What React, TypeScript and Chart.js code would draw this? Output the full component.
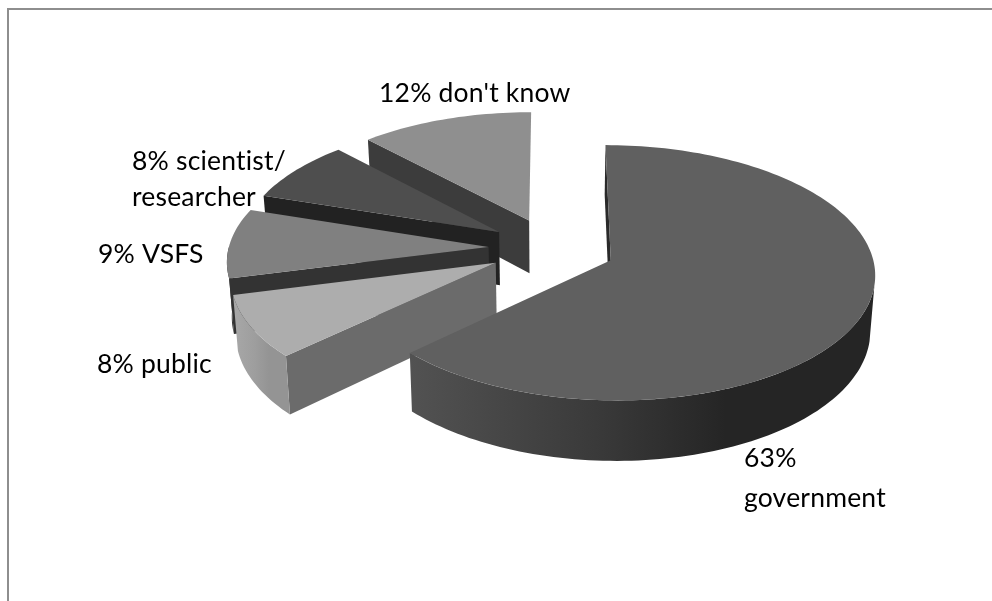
import React, { useEffect, useRef } from "react";
import { Chart, registerables } from "chart.js";

Chart.register(...registerables);

// Survey answers, clockwise from twelve o'clock.
const categories = ["government", "public", "VSFS", "scientist/ researcher", "don't know"];
const shares = [63, 8, 9, 8, 12];
const labelLines = [
  ["63%", "government"],
  ["8% public"],
  ["9% VSFS"],
  ["8% scientist/", "researcher"],
  ["12% don't know"],
];

// Where each label's first line starts, as [x, baseline, line gap].
const labelAnchors = [
  [744, 467, 40],
  [97, 373, 0],
  [98, 263, 0],
  [132, 170, 36],
  [379, 102, 0],
];

// Shades per slice: top face, start-edge wall, rim wall gradient stops.
const topFaces = ["#606060", "#adadad", "#808080", "#4e4e4e", "#8f8f8f"];
const edgeWalls = ["#2a2a2a", "#6b6b6b", "#333333", "#222222", "#3c3c3c"];
const rimWalls = [
  ["#525252", "#3a3a3a", "#252525", "#252525"],
  ["#a8a8a8", "#9e9e9e", "#949494", "#949494"],
  ["#333333", "#333333", "#333333", "#333333"],
  ["#222222", "#222222", "#222222", "#222222"],
  ["#3c3c3c", "#3c3c3c", "#3c3c3c", "#3c3c3c"],
];

// Camera model of the tilted pie.
const VIEW = {
  cx: 552,
  cy: 248,
  rx: 260,
  ry: 124,
  perspective: 0.098,
  explode: 0.244,
  depth: 54,
  floorShrink: 0.985,
  rimStart: 0.2,
};

type Pt = [number, number];

function project(angle: number, radius: number, mid: number, floor: boolean): Pt {
  const { cx, cy, rx, ry, perspective, explode, depth, floorShrink } = VIEW;
  const U = explode * Math.cos(mid) + radius * Math.cos(angle);
  const V = explode * Math.sin(mid) + radius * Math.sin(angle);
  const s = 1 / (1 - perspective * V);
  const k = floor ? floorShrink : 1;
  return [cx + k * s * rx * U, cy + s * ry * V + (floor ? s * depth : 0)];
}

function rimPoints(a0: number, a1: number, mid: number, floor: boolean): Pt[] {
  const steps = Math.max(2, Math.ceil(Math.abs(a1 - a0) * 40));
  const pts: Pt[] = [];
  for (let i = 0; i <= steps; i++) {
    pts.push(project(a0 + ((a1 - a0) * i) / steps, 1, mid, floor));
  }
  return pts;
}

function fillPolygon(ctx: CanvasRenderingContext2D, pts: Pt[], fill: string | CanvasGradient) {
  ctx.beginPath();
  pts.forEach(([x, y], i) => (i ? ctx.lineTo(x, y) : ctx.moveTo(x, y)));
  ctx.closePath();
  ctx.fillStyle = fill;
  ctx.fill();
}

// Paints each arc of the pie as an exploded prism, farthest slice first.
const prismPlugin = {
  id: "prismPie",
  afterDatasetsDraw(chart: Chart) {
    const { ctx } = chart;
    const arcs = chart.getDatasetMeta(0).data as any[];
    ctx.save();
    for (let i = arcs.length - 1; i >= 0; i--) {
      const { startAngle: a0, endAngle: a1 } = arcs[i].getProps(["startAngle", "endAngle"], true);
      const mid = (a0 + a1) / 2;

      // Straight wall along the slice's leading edge.
      fillPolygon(
        ctx,
        [
          project(a0, 0, mid, false),
          project(a0, 1, mid, false),
          project(a0, 1, mid, true),
          project(a0, 0, mid, true),
        ],
        edgeWalls[i]
      );

      // Curved wall, only where the rim faces the viewer.
      const from = Math.max(a0, VIEW.rimStart);
      const to = Math.min(a1, Math.PI);
      if (to > from) {
        const upper = rimPoints(from, to, mid, false);
        const lower = rimPoints(from, to, mid, true).reverse();
        const xs = upper.map((p) => p[0]);
        const minX = Math.min(...xs);
        const maxX = Math.max(...xs);
        const grad = ctx.createLinearGradient(minX, 0, maxX, 0);
        const stops = rimWalls[i];
        grad.addColorStop(0, stops[0]);
        grad.addColorStop(0.4, stops[1]);
        grad.addColorStop(0.68, stops[2]);
        grad.addColorStop(1, stops[3]);
        fillPolygon(ctx, [...upper, ...lower], grad);
      }

      fillPolygon(ctx, [project(a0, 0, mid, false), ...rimPoints(a0, a1, mid, false)], topFaces[i]);
    }

    ctx.fillStyle = "#000000";
    ctx.font = '26.5px Lato, "Open Sans", sans-serif';
    (ctx as any).letterSpacing = "0.2px";
    ctx.textBaseline = "alphabetic";
    labelLines.forEach((lines, i) => {
      const [x, y, gap] = labelAnchors[i];
      lines.forEach((line, n) => ctx.fillText(line, x, y + n * gap));
    });

    // Frame of the chart area, open on the other sides.
    ctx.fillStyle = "#8e8e8e";
    ctx.fillRect(7, 8, 2, 593);
    ctx.fillRect(7, 8, 985, 2);
    ctx.restore();
  },
};

export default function App() {
  const ref = useRef<HTMLCanvasElement | null>(null);
  useEffect(() => {
    if (!ref.current) return;
    const chart = new Chart(ref.current, {
      type: "pie",
      data: {
        labels: categories,
        datasets: [
          {
            data: shares,
            backgroundColor: "rgba(0,0,0,0)",
            borderWidth: 0,
          },
        ],
      },
      options: {
        responsive: false,
        animation: false,
        events: [],
        plugins: { legend: { display: false }, tooltip: { enabled: false } },
      },
      plugins: [prismPlugin],
    });
    return () => chart.destroy();
  }, []);
  return (
    <div style={{ position: "fixed", left: 0, top: 0, width: 992, height: 601, background: "#ffffff" }}>
      <canvas ref={ref} width={992} height={601} style={{ display: "block" }} />
    </div>
  );
}
